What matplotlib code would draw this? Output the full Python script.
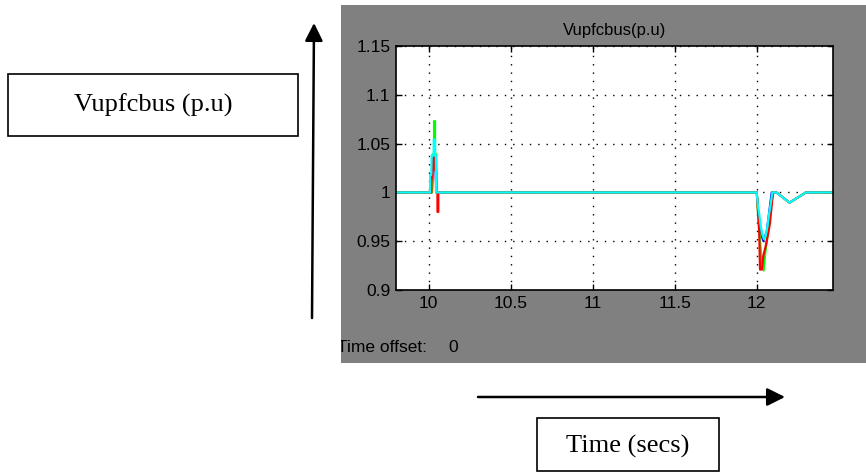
import matplotlib.pyplot as plt
from matplotlib.patches import Rectangle

W, H = 866, 472

# scope traces: time (s), voltage (p.u.)
t_blue = [9.8, 10.02, 10.03, 10.038, 10.045, 12.0, 12.02, 12.04, 12.06, 12.09,
          12.12, 12.20, 12.30, 12.465]
v_blue = [1.0, 1.0, 1.036, 1.033, 1.0, 1.0, 0.96, 0.95, 0.96, 1.0,
          1.0, 0.9895, 1.0, 1.0]

t_green = [9.8, 10.02, 10.024, 10.032, 10.032, 10.038, 10.038, 10.045, 10.05,
           12.0, 12.008, 12.02, 12.03, 12.042, 12.05, 12.06, 12.075, 12.09, 12.10,
           12.12, 12.20, 12.30, 12.465]
v_green = [1.0, 1.0, 1.039, 1.039, 1.073, 1.073, 1.039, 1.039, 1.0,
           1.0, 0.978, 0.95, 0.93, 0.92, 0.935, 0.95, 0.97, 0.99, 1.0,
           1.0, 0.9895, 1.0, 1.0]

t_red = [9.8, 10.016, 10.016, 10.02, 10.022, 10.032, 10.035, 10.035, 10.038, 10.044, 10.044,
         10.053, 10.053, 10.058, 10.058,
         12.0, 12.004, 12.015, 12.02, 12.032, 12.04, 12.055, 12.07, 12.08, 12.09, 12.10,
         12.12, 12.20, 12.30, 12.465]
v_red = [1.0, 1.0, 1.011, 1.018, 1.035, 1.035, 1.036, 1.023, 1.023, 1.023, 1.0,
         1.0, 0.98, 0.98, 1.0,
         1.0, 0.99, 0.96, 0.921, 0.921, 0.935, 0.945, 0.958, 0.968, 0.985, 1.0,
         1.0, 0.9895, 1.0, 1.0]

t_cyan = [9.8, 10.008, 10.008, 10.015, 10.018, 10.030, 10.030, 10.038, 10.038, 10.043, 10.045,
          12.0, 12.006, 12.015, 12.025, 12.035, 12.045, 12.055, 12.065, 12.075, 12.085, 12.095,
          12.12, 12.20, 12.30, 12.465]
v_cyan = [1.0, 1.0, 1.018, 1.018, 1.038, 1.038, 1.054, 1.054, 1.038, 1.038, 1.0,
          1.0, 0.988, 0.978, 0.965, 0.956, 0.952, 0.956, 0.965, 0.978, 0.988, 1.0,
          1.0, 0.9895, 1.0, 1.0]

x_ticks = [10, 10.5, 11, 11.5, 12]
x_labels = ["10", "10.5", "11", "11.5", "12"]
y_ticks = [0.9, 0.95, 1.0, 1.05, 1.1, 1.15]
y_labels = ["0.9", "0.95", "1", "1.05", "1.1", "1.15"]

fig = plt.figure(figsize=(W / 100, H / 100), dpi=100)

# overlay in pixel coordinates for the panel, boxes and arrows
ov = fig.add_axes([0, 0, 1, 1], zorder=0)
ov.set_xlim(0, W)
ov.set_ylim(H, 0)
ov.axis("off")

panel = Rectangle((341, 5), W - 341, 358, facecolor="#808080", edgecolor="none")
ov.add_patch(panel)

serif = "Liberation Serif"
ov.add_patch(Rectangle((8, 74), 290, 62, facecolor="white", edgecolor="black", lw=1.2))
ov.text(153, 105, "Vupfcbus (p.u)", family=serif, fontsize=19, ha="center", va="center")
ov.add_patch(Rectangle((537, 418), 182, 53, facecolor="white", edgecolor="black", lw=1.2))
ov.text(628, 446, "Time (secs)", family=serif, fontsize=19, ha="center", va="center")

arrow = dict(arrowstyle="-|>,head_length=0.4,head_width=0.2", lw=1.8, color="black",
             mutation_scale=27, shrinkA=0, shrinkB=0)
ov.annotate("", xy=(314, 23), xytext=(312, 318), arrowprops=arrow)
ov.annotate("", xy=(785, 397), xytext=(478, 397), arrowprops=arrow)

sans = "Liberation Sans"
t1 = ov.text(337, 351.5, "Time offset:", family=sans, fontsize=12.5, va="baseline",
             clip_on=True)
t1.set_clip_path(panel)
ov.text(448, 351.5, "0", family=sans, fontsize=12.5, va="baseline")

# scope axes
ax = fig.add_axes([396 / W, 1 - 290 / H, (833 - 396) / W, 244 / H], zorder=2)
ax.set_facecolor("white")
ax.plot(t_blue, v_blue, color="#0000ff", lw=1.3)
ax.plot(t_green, v_green, color="#00ff00", lw=1.6)
ax.plot(t_red, v_red, color="#ff0000", lw=1.6)
ax.plot(t_cyan, v_cyan, color="#00ffff", lw=1.6)

ax.set_xlim(9.8, 12.465)
ax.set_ylim(0.9, 1.15)
ax.set_xticks(x_ticks)
ax.set_xticklabels(x_labels, family=sans, fontsize=12.5)
ax.set_yticks(y_ticks)
ax.set_yticklabels(y_labels, family=sans, fontsize=12.5)
ax.tick_params(direction="in", length=4, width=1, top=True, right=True, pad=4, colors="black")
ax.grid(True, color="black", linestyle=(0, (1, 5)), lw=1.0)
ax.set_axisbelow(True)
for s in ax.spines.values():
    s.set_linewidth(1.2)
ax.set_title("Vupfcbus(p.u)", family=sans, fontsize=12, pad=8)

fig.savefig("out.png", dpi=100)
